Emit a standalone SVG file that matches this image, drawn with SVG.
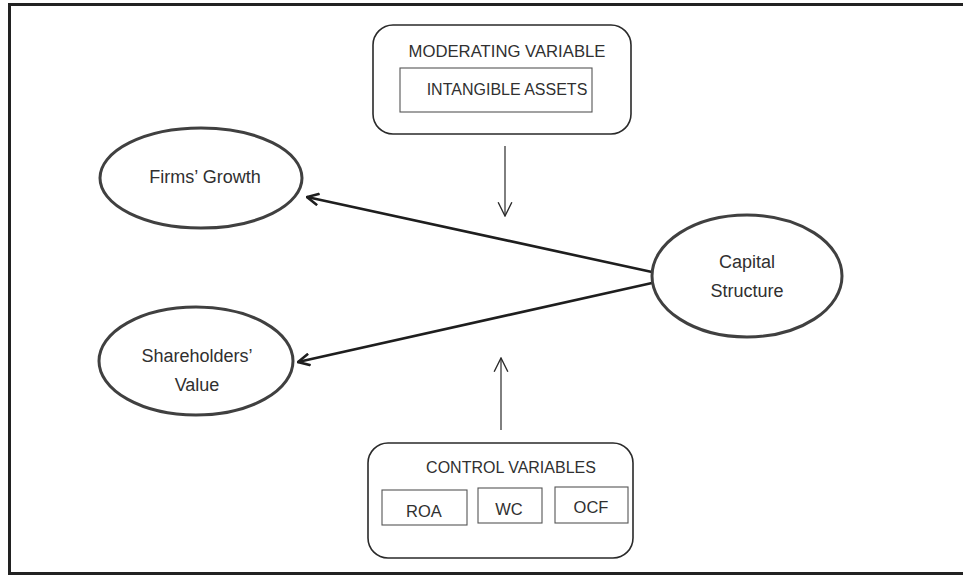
<svg xmlns="http://www.w3.org/2000/svg" width="963" height="575" viewBox="0 0 963 575">
<style>
  .t { font-family: "Liberation Sans", Arial, sans-serif; fill: #303030; text-anchor: middle; }
  .ell { fill: #fff; stroke: #404040; stroke-width: 3; }
  .rbox { fill: #fff; stroke: #2a2a2a; stroke-width: 1.6; }
  .ibox { fill: #fff; stroke: #555; stroke-width: 1.1; }
  .thick { stroke: #1e1e1e; stroke-width: 2.6; fill: none; }
  .thin { stroke: #2a2a2a; stroke-width: 1.2; fill: none; }
</style>
<defs>
  <marker id="vThick" viewBox="0 0 12 12" refX="11" refY="6" markerWidth="14" markerHeight="14" markerUnits="userSpaceOnUse" orient="auto">
    <path d="M1,1 L11,6 L1,11" fill="none" stroke="#1e1e1e" stroke-width="2.2"/>
  </marker>
  <marker id="vThin" viewBox="0 0 14 14" refX="13" refY="7" markerWidth="16" markerHeight="16" markerUnits="userSpaceOnUse" orient="auto">
    <path d="M1,1 L13,7 L1,13" fill="none" stroke="#2a2a2a" stroke-width="1.2"/>
  </marker>
</defs>
<rect width="963" height="575" fill="#fff"/>
<rect x="9.5" y="4.5" width="1000" height="569" fill="none" stroke="#222" stroke-width="3"/>

<g id="connectors">
  <line class="thick" x1="652" y1="272" x2="307" y2="197" marker-end="url(#vThick)"/>
  <line class="thick" x1="652" y1="283" x2="298" y2="362" marker-end="url(#vThick)"/>
  <line class="thin" x1="505" y1="146" x2="505" y2="216" marker-end="url(#vThin)"/>
  <line class="thin" x1="501" y1="430" x2="501" y2="358" marker-end="url(#vThin)"/>
</g>

<g id="moderating">
  <rect class="rbox" x="373" y="25" width="258" height="109" rx="20" ry="20"/>
  <text class="t" x="507" y="57" font-size="16.7">MODERATING VARIABLE</text>
  <rect class="ibox" x="400" y="68" width="192" height="44"/>
  <text class="t" x="507" y="95" font-size="16">INTANGIBLE ASSETS</text>
</g>

<g id="firms-growth">
  <ellipse class="ell" cx="201" cy="178" rx="101" ry="50"/>
  <text class="t" x="205" y="183" font-size="18">Firms’ Growth</text>
</g>

<g id="shareholders-value">
  <ellipse class="ell" cx="196" cy="361" rx="97" ry="54"/>
  <text class="t" x="197" y="362" font-size="18">Shareholders’</text>
  <text class="t" x="197" y="391" font-size="18">Value</text>
</g>

<g id="capital-structure">
  <ellipse class="ell" cx="747" cy="276" rx="95" ry="61"/>
  <text class="t" x="747" y="268" font-size="18">Capital</text>
  <text class="t" x="747" y="297" font-size="18">Structure</text>
</g>

<g id="control">
  <rect class="rbox" x="368" y="443" width="265" height="115" rx="20" ry="20"/>
  <text class="t" x="511" y="473" font-size="16">CONTROL VARIABLES</text>
  <rect class="ibox" x="382" y="490" width="85" height="35"/>
  <text class="t" x="424" y="517" font-size="16.5">ROA</text>
  <rect class="ibox" x="478" y="488" width="64" height="35"/>
  <text class="t" x="509" y="515" font-size="16.5">WC</text>
  <rect class="ibox" x="555" y="487" width="73" height="36"/>
  <text class="t" x="591" y="513" font-size="16.5">OCF</text>
</g>
</svg>
